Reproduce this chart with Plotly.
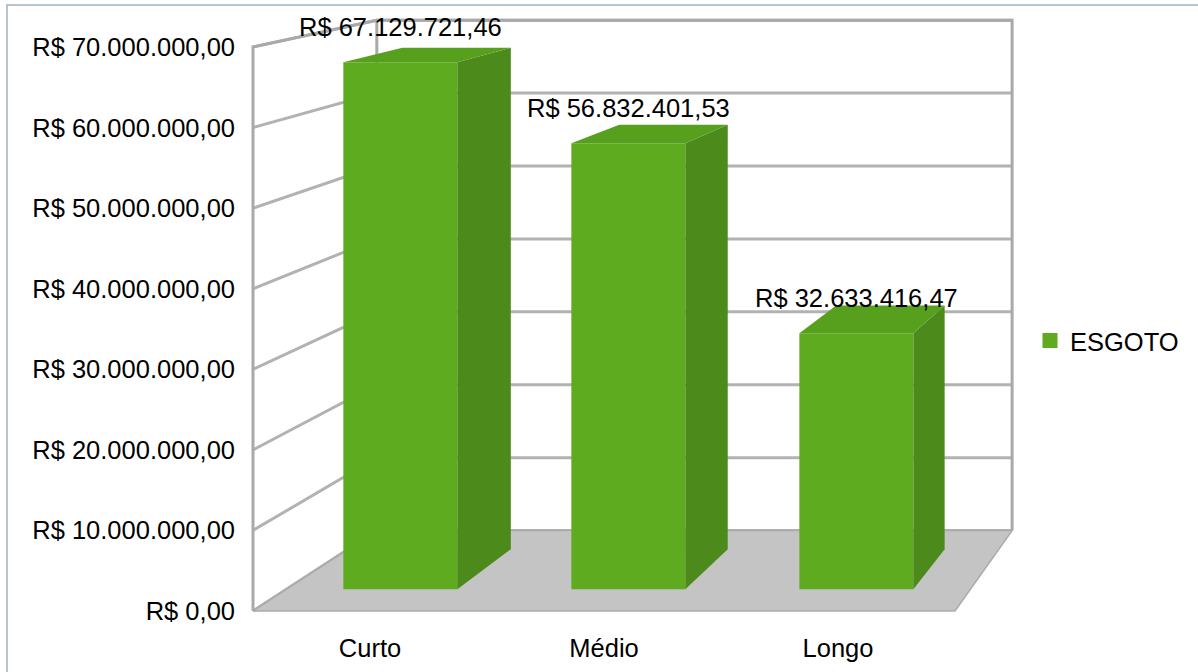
import plotly.graph_objects as go

# ---- chart data ----
categories = ["Curto", "Médio", "Longo"]
esgoto = [67129721.46, 56832401.53, 32633416.47]
series_name = "ESGOTO"
y_ticks = [0, 10_000_000, 20_000_000, 30_000_000, 40_000_000,
           50_000_000, 60_000_000, 70_000_000]


def brl(v):
    """Format a number as Brazilian currency, e.g. R$ 1.234,56."""
    s = f"{v:,.2f}".replace(",", "X").replace(".", ",").replace("X", ".")
    return "R$ " + s


# ---- simple perspective box (front plane parallel to the screen) ----
W, H = 1198, 672
FRONT_LEFT = 253.0           # x of the front-left floor corner
CELL = 234.0                 # width of one category on the front plane
BASE_Y = 611.0               # y of value 0 on the front plane
VMAX = y_ticks[-1]
PX_PER_UNIT = 564.0 / VMAX   # front-plane vertical scale
VP_X, VP_Y = 1556.0, -235.0  # vanishing point
DEPTH_K = 0.105              # shrink of the back plane (1 / (1 + k))
BAR_W = 0.5                  # bar width as a fraction of a category
BAR_D0, BAR_D1 = 0.25, 0.75  # bar depth span inside the box
NCAT = len(categories)
FS = 25.5                    # text size


def proj(u, v, d):
    """u: category units, v: data value, d: depth 0 (front) .. 1 (back)."""
    fx = FRONT_LEFT + u * CELL
    fy = BASE_Y - v * PX_PER_UNIT
    s = 1.0 / (1.0 + DEPTH_K * d)
    return VP_X + s * (fx - VP_X), VP_Y + s * (fy - VP_Y)


def poly(points):
    xs, ys = zip(*points)
    return list(xs) + [xs[0]], list(ys) + [ys[0]]


# plot area in pixels
L, R, T, B = 240, 1030, 6, 616

fig = go.Figure()


def add_face(points, fill, line_color=None, line_width=0):
    xs, ys = poly(points)
    fig.add_trace(go.Scatter(
        x=xs, y=ys, mode="lines", fill="toself", fillcolor=fill,
        line=dict(color=line_color or fill, width=line_width),
        hoverinfo="skip", showlegend=False))


def add_lines(segments, color, width):
    xs, ys = [], []
    for seg in segments:
        for p in seg:
            xs.append(p[0])
            ys.append(p[1])
        xs.append(None)
        ys.append(None)
    fig.add_trace(go.Scatter(
        x=xs, y=ys, mode="lines", line=dict(color=color, width=width),
        hoverinfo="skip", showlegend=False))


# walls
add_face([proj(0, 0, 1), proj(NCAT, 0, 1), proj(NCAT, VMAX, 1), proj(0, VMAX, 1)],
         "white")
add_face([proj(0, 0, 0), proj(0, 0, 1), proj(0, VMAX, 1), proj(0, VMAX, 0)],
         "white")

# grid lines on the left and back walls
grid = [[proj(0, t, 0), proj(0, t, 1), proj(NCAT, t, 1)] for t in y_ticks]
add_lines(grid, "#b2b2b2", 3)
# wall borders
add_lines([[proj(0, 0, 0), proj(0, VMAX, 0), proj(0, VMAX, 1), proj(NCAT, VMAX, 1),
            proj(NCAT, 0, 1)],
           [proj(0, 0, 1), proj(0, VMAX, 1)]], "#a9a9a9", 3)

# floor
add_face([proj(0, 0, 0), proj(NCAT, 0, 0), proj(NCAT, 0, 1), proj(0, 0, 1)],
         "#c4c4c4", "#aaaaaa", 1.5)

# bars
FRONT_C, SIDE_C, TOP_C = "#5eab20", "#4b8a1b", "#56a01d"
for i, v in enumerate(esgoto):
    u0 = i + (1 - BAR_W) / 2
    u1 = u0 + BAR_W
    add_face([proj(u0, 0, BAR_D0), proj(u1, 0, BAR_D0),
              proj(u1, v, BAR_D0), proj(u0, v, BAR_D0)], FRONT_C)
    add_face([proj(u1, 0, BAR_D0), proj(u1, 0, BAR_D1),
              proj(u1, v, BAR_D1), proj(u1, v, BAR_D0)], SIDE_C)
    add_face([proj(u0, v, BAR_D0), proj(u1, v, BAR_D0),
              proj(u1, v, BAR_D1), proj(u0, v, BAR_D1)], TOP_C)
    lx, ly = proj(i + 0.5, v, BAR_D0)
    fig.add_annotation(x=lx, y=ly - 35, text=brl(v), showarrow=False,
                       xanchor="center", yanchor="middle",
                       font=dict(size=FS, color="black"))

# legend entry for the series
fig.add_trace(go.Scatter(
    x=[None], y=[None], mode="markers", name=series_name,
    marker=dict(symbol="square", size=15, color=FRONT_C), showlegend=True))

FONT = "Liberation Sans, Arial, sans-serif"
pw, ph = R - L, B - T


def paper_x(px):
    return (px - L) / pw


def paper_y(py):
    return (B - py) / ph


# outer frame
fig.add_shape(type="rect", xref="paper", yref="paper",
              x0=paper_x(7), x1=paper_x(W + 10), y0=paper_y(5), y1=paper_y(H + 10),
              line=dict(color="#9db2c7", width=1.5), layer="above")

fig.update_layout(
    width=W, height=H, autosize=False,
    margin=dict(l=L, r=W - R, t=T, b=H - B),
    paper_bgcolor="white", plot_bgcolor="white",
    font=dict(family=FONT, size=FS, color="black"),
    showlegend=True,
    legend=dict(x=paper_x(1030), y=paper_y(341), xanchor="left", yanchor="middle",
                bgcolor="rgba(0,0,0,0)", borderwidth=0,
                font=dict(size=FS, color="black")),
    xaxis=dict(range=[L, R], showgrid=False, zeroline=False, showline=False,
               ticks="", tickmode="array",
               tickvals=[proj(i + 0.5, 0, 0)[0] for i in range(NCAT)],
               ticktext=categories, ticklabelstandoff=14,
               tickfont=dict(size=FS, color="black")),
    yaxis=dict(range=[B, T], showgrid=False, zeroline=False, showline=False,
               ticks="", tickmode="array",
               tickvals=[proj(0, t, 0)[1] for t in y_ticks],
               ticktext=[brl(t) for t in y_ticks], ticklabelstandoff=4,
               tickfont=dict(size=FS, color="black")),
)

fig.write_html("out.html")
